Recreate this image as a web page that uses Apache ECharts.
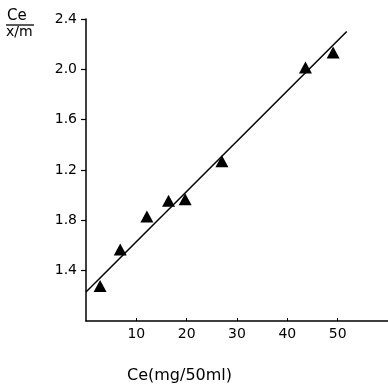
<!DOCTYPE html>
<html>
<head>
<meta charset="utf-8">
<script src="https://cdn.jsdelivr.net/npm/echarts@6/dist/echarts.min.js"></script>
<style>
html,body{margin:0;padding:0;background:#fff;}
#chart{width:388px;height:386px;}
</style>
</head>
<body>
<div id="chart"></div>
<script>
// Measured points (x = Ce mg/50ml, y position on the printed axis scale)
var xValues = [2.8, 6.8, 12.1, 16.4, 19.7, 27.0, 43.6, 49.1];
var yValues = [0.278, 0.569, 0.831, 0.956, 0.967, 1.269, 2.014, 2.134];
// Fitted straight line end points
var lineX = [0, 51.8];
var lineY = [0.231, 2.30];
// Tick values and the labels printed on them
var yTickValues = [0.4, 0.8, 1.2, 1.6, 2.0, 2.4];
var yTickLabels = ['1.4', '1.8', '1.2', '1.6', '2.0', '2.4'];
var xTickValues = [10, 20, 30, 40, 50];
var xTickLabels = ['10', '20', '30', '40', '50'];

var pts = xValues.map(function (x, i) { return [x, yValues[i]]; });
var linePts = lineX.map(function (x, i) { return [x, lineY[i]]; });

var chart = echarts.init(document.getElementById('chart'), null, {renderer: 'canvas'});
chart.setOption({
  animation: false,
  backgroundColor: '#fff',
  grid: {left: 86, right: 0, top: 19, bottom: 65, containLabel: false},
  xAxis: {
    type: 'value', min: 0, max: 60, interval: 10,
    splitLine: {show: false},
    axisLine: {show: true, lineStyle: {color: '#000', width: 1.5}},
    axisTick: {show: true, inside: true, length: 3, customValues: xTickValues, lineStyle: {color: '#000'}},
    axisLabel: {
      customValues: xTickValues, margin: 6, color: '#000',
      fontFamily: 'DejaVu Sans', fontSize: 14,
      formatter: function (v) { var i = xTickValues.indexOf(v); return i >= 0 ? xTickLabels[i] : ''; }
    }
  },
  yAxis: {
    type: 'value', min: 0, max: 2.4, interval: 0.4,
    splitLine: {show: false},
    axisLine: {show: true, lineStyle: {color: '#000', width: 1.5}},
    axisTick: {show: true, inside: false, length: 5, customValues: yTickValues, lineStyle: {color: '#000', width: 1.2}},
    axisLabel: {
      customValues: yTickValues, margin: 9, color: '#000',
      fontFamily: 'DejaVu Sans', fontSize: 14,
      padding: [0, 0, 6, 0],
      formatter: function (v) {
        for (var i = 0; i < yTickValues.length; i++) {
          if (Math.abs(yTickValues[i] - v) < 1e-6) return yTickLabels[i];
        }
        return '';
      }
    }
  },
  graphic: [
    {type: 'text', left: 7, top: 9, style: {text: 'Ce', font: '15px "DejaVu Sans"', fill: '#000'}},
    {type: 'line', shape: {x1: 6, y1: 25, x2: 34, y2: 25}, style: {stroke: '#000', lineWidth: 1.3}},
    {type: 'text', left: 6, top: 25, style: {text: 'x/m', font: '14px "DejaVu Sans"', fill: '#000'}},
    {type: 'text', left: 127, top: 368, style: {text: 'Ce(mg/50ml)', font: '16px "DejaVu Sans"', fill: '#000'}}
  ],
  series: [
    {
      type: 'line', data: linePts, symbol: 'none',
      lineStyle: {color: '#000', width: 1.5}, silent: true
    },
    {
      type: 'scatter', data: pts, symbol: 'triangle', symbolSize: [13, 12],
      itemStyle: {color: '#000', opacity: 1}, z: 3
    }
  ]
});
</script>
</body>
</html>
